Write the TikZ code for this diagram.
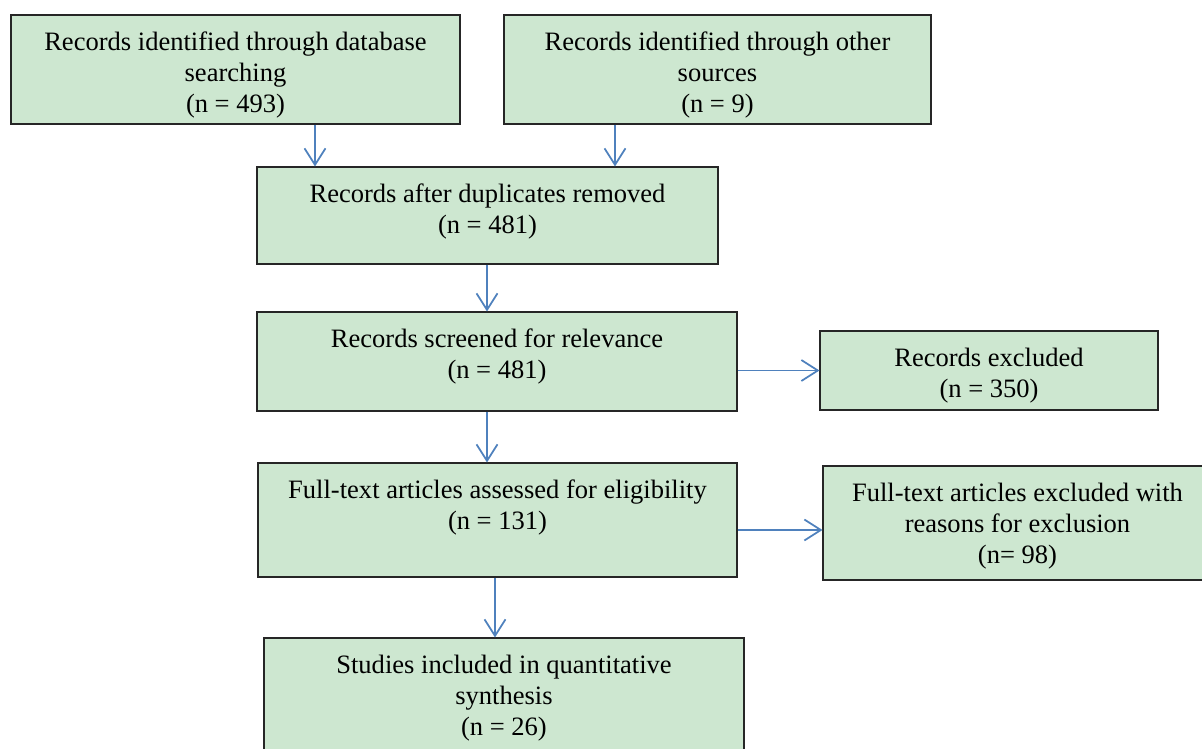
\documentclass[tikz,border=0pt]{standalone}
\usepackage{fontspec}
\setmainfont{Liberation Serif}
\usetikzlibrary{arrows.meta,positioning,calc}
\definecolor{leaf}{RGB}{205,231,208}
\definecolor{sky}{RGB}{79,129,189}

\begin{document}
\begin{tikzpicture}[font=\fontsize{15.1}{17.6}\selectfont,
    box/.style={draw=black!85,line width=0.6pt,fill=leaf,inner sep=0pt},
    boxtext/.style={anchor=north,align=center,inner sep=0pt,yshift=-0.34cm},
    flow/.style={draw=sky,line width=1pt,-{Straight Barb[length=3.3mm,width=4.2mm]}}]
  \useasboundingbox (0,0) rectangle (24.04,-14.98);
  % identification
  \node[box,minimum width=8.98cm,minimum height=2.18cm,
    label={[boxtext]north:Records identified through database\\searching\\(n = 493)}] (dbsearch) at (4.71,-1.39) {};
  \node[box,minimum width=8.54cm,minimum height=2.18cm,
    label={[boxtext]north:Records identified through other\\sources\\(n = 9)}] (othersrc) at (14.35,-1.39) {};
  % screening
  \node[box,minimum width=9.22cm,minimum height=1.94cm,
    label={[boxtext]north:Records after duplicates removed\\(n = 481)}] (dedup) at (9.75,-4.31) {};
  \node[box,minimum width=9.60cm,minimum height=1.98cm,
    label={[boxtext]north:Records screened for relevance\\(n = 481)}] (screen) at (9.94,-7.23) {};
  \node[box,minimum width=6.76cm,minimum height=1.58cm,
    label={[boxtext]north:Records excluded\\(n = 350)}] (excl) at (19.78,-7.41) {};
  % eligibility
  \node[box,minimum width=9.58cm,minimum height=2.28cm,
    label={[boxtext]north:Full-text articles assessed for eligibility\\(n = 131)}] (fulltext) at (9.95,-10.40) {};
  \node[box,minimum width=7.78cm,minimum height=2.28cm,
    label={[boxtext]north:Full-text articles excluded with\\reasons for exclusion\\(n= 98)}] (ftexcl) at (20.35,-10.46) {};
  % included
  \node[box,minimum width=9.60cm,minimum height=2.40cm,
    label={[boxtext]north:Studies included in quantitative\\synthesis\\(n = 26)}] (incl) at (10.08,-13.96) {};

  \draw[flow] ([xshift=15.9mm]dbsearch.south) -- ([xshift=15.9mm]dbsearch.south |- dedup.north);
  \draw[flow] ([xshift=-20.5mm]othersrc.south) -- ([xshift=-20.5mm]othersrc.south |- dedup.north);
  \draw[flow] ([xshift=-0.1mm]dedup.south) -- ([xshift=-0.1mm]dedup.south |- screen.north);
  \draw[flow] (screen.east |- excl.west) -- (excl.west);
  \draw[flow] ([xshift=-2mm]screen.south) -- ([xshift=-2mm]screen.south |- fulltext.north);
  \draw[flow] ([yshift=-1.4mm]ftexcl.west -| fulltext.east) -- ([yshift=-1.4mm]ftexcl.west);
  \draw[flow] ([xshift=-0.5mm]fulltext.south) -- ([xshift=-0.5mm]fulltext.south |- incl.north);
\end{tikzpicture}
\end{document}
